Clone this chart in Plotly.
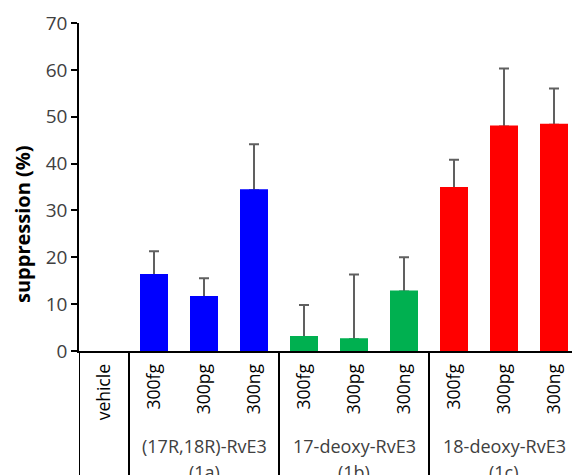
import plotly.graph_objects as go

categories = ["vehicle", "300fg", "300pg", "300ng", "300fg", "300pg", "300ng", "300fg", "300pg", "300ng"]
values = [0, 16.2, 11.5, 34.3, 3.0, 2.5, 12.7, 34.8, 47.9, 48.3]
err_plus = [0, 5.1, 4.0, 9.8, 6.8, 13.8, 7.3, 6.0, 12.4, 7.7]
colors = ["#0000FF"] * 4 + ["#00B050"] * 3 + ["#FF0000"] * 3
groups = [("(17R,18R)-RvE3", "(1a)", 2), ("17-deoxy-RvE3", "(1b)", 5), ("18-deoxy-RvE3", "(1c)", 8)]
separators = [-0.5, 0.5, 3.5, 6.5]

FONT = "Open Sans"
OFF = 8  # default page body margin
W, H = 580 - OFF, 475 - OFF
L, R, T, B = 79 - OFF, 1, 23 - OFF, 124
ph = H - T - B

def py(pix):
    return (H - B - (pix - OFF)) / ph

def px(pix):
    return (pix - OFF - L) / (W - L - R)

x = list(range(len(categories)))
# points without an error bar (vehicle) are left out of the whisker trace
err_y_vals = [v if e else None for v, e in zip(values, err_plus)]
line_w = [0 if v == 0 else 2 for v in values]
fig = go.Figure()
fig.add_trace(go.Bar(
    x=x, y=err_y_vals, width=0.52,
    marker=dict(color=colors, line=dict(width=0)),
    error_y=dict(type="data", symmetric=False, array=err_plus,
                 color="#606060", thickness=2, width=5),
))
fig.add_trace(go.Bar(
    x=x, y=values, width=0.52,
    marker=dict(color=colors, line=dict(width=line_w, color=colors)),
))

shapes = [dict(type="line", xref="x", yref="paper", x0=s, x1=s, y0=0, y1=py(480),
               line=dict(color="black", width=2)) for s in separators]

ann = [dict(text="<b>suppression (%)</b>", xref="paper", yref="paper", x=px(22), y=py(224),
            textangle=-90, showarrow=False, font=dict(family=FONT, size=20, color="black"),
            xanchor="center", yanchor="middle")]
for name, code, cx in groups:
    ann.append(dict(text=name, xref="x", yref="paper", x=cx, y=py(446), showarrow=False,
                    font=dict(family=FONT, size=18, color="#404040"), xanchor="center", yanchor="middle"))
    ann.append(dict(text=code, xref="x", yref="paper", x=cx, y=py(472), showarrow=False,
                    font=dict(family=FONT, size=18, color="#404040"), xanchor="center", yanchor="middle"))

fig.update_layout(
    width=W, height=H, margin=dict(l=L, r=R, t=T, b=B),
    plot_bgcolor="white", paper_bgcolor="white", showlegend=False,
    barmode="overlay",
    shapes=shapes, annotations=ann,
    xaxis=dict(range=[-0.5, 9.5], tickvals=x, ticktext=categories, tickangle=-90,
               showline=True, linecolor="black", linewidth=2, ticks="", showgrid=False,
               zeroline=False, ticklabelstandoff=4,
               tickfont=dict(family=FONT, size=17.5, color="black")),
    yaxis=dict(range=[0, 70], dtick=10, showline=True, linecolor="black", linewidth=1.5,
               ticks="outside", ticklen=6, tickcolor="black", tickwidth=1.5, showgrid=False,
               zeroline=False, tickfont=dict(family=FONT, size=19, color="#404040")),
)
fig.write_html("out.html")
